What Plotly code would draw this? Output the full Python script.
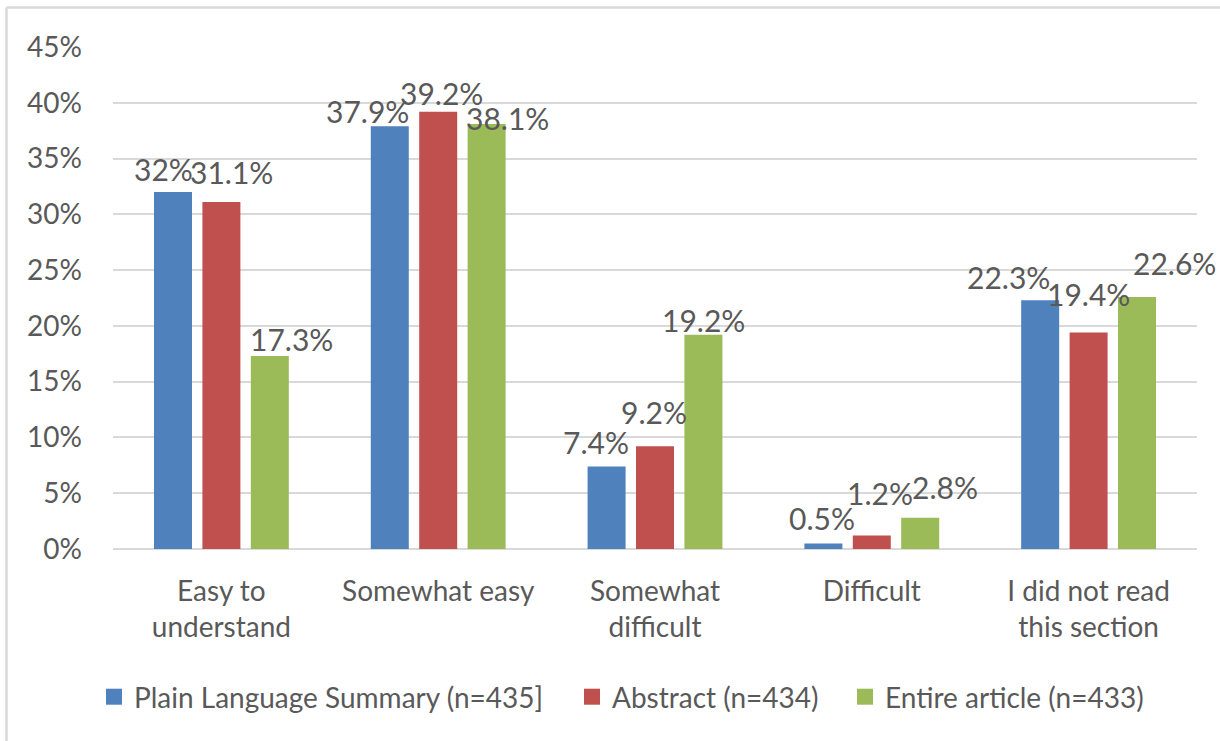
import plotly.graph_objects as go

# Survey results: perceived ease of reading each section
categories = ["Easy to<br>understand", "Somewhat easy", "Somewhat<br>difficult",
              "Difficult", "I did not read<br>this section"]
series_names = ["Plain Language Summary (n=435]", "Abstract (n=434)", "Entire article (n=433)"]
plain_summary = [32.0, 37.9, 7.4, 0.5, 22.3]
abstract = [31.1, 39.2, 9.2, 1.2, 19.4]
entire_article = [17.3, 38.1, 19.2, 2.8, 22.6]
label_texts = [
    ["32%", "37.9%", "7.4%", "0.5%", "22.3%"],
    ["31.1%", "39.2%", "9.2%", "1.2%", "19.4%"],
    ["17.3%", "38.1%", "19.2%", "2.8%", "22.6%"],
]
y_ticks = [0, 5, 10, 15, 20, 25, 30, 35, 40, 45]
y_tick_labels = ["0%", "5%", "10%", "15%", "20%", "25%", "30%", "35%", "40%", "45%"]

colors = ["#4F81BD", "#C0504D", "#9BBB59"]
text_color = "#595959"
grid_color = "#D9D9D9"
font_family = "Lato, Carlito, Calibri, sans-serif"

# Geometry of the figure
W, H = 1220, 741
ML, MR, MT, MB = 113, 23, 47, 192
BARGAP = 0.33
BARGROUPGAP = 0.215
plot_w = W - ML - MR
plot_h = H - MT - MB

# Hand-placed label nudges (pixels): horizontal from bar centre, vertical above bar top
label_dx = [[-9, -22, -11, -1, -32], [10, 3, -1, 8, 0], [22, 21, 0, 25, 37]]
label_dy = [[23, 15, 24, 25, 23], [30, 19, 34, 43, 39], [17, 6, 15, 31, 34]]

# Left pixel where each legend entry's text begins
legend_text_x = [134, 612, 885]
legend_ids = ["legend", "legend2", "legend3"]

values = [plain_summary, abstract, entire_article]

fig = go.Figure()
for name, vals, col in zip(series_names, values, colors):
    fig.add_trace(go.Bar(
        x=categories, y=vals, name=name, marker=dict(color=col, line=dict(width=0)),
        showlegend=False, hoverinfo="x+y",
    ))
# Legend entries with larger square swatches, one legend box per entry
for name, col, lid in zip(series_names, colors, legend_ids):
    fig.add_trace(go.Scatter(
        x=[None], y=[None], mode="markers", name=name, legend=lid,
        marker=dict(symbol="square", size=16, color=col),
    ))

# Data labels
cat_w = plot_w / len(categories)
slot = cat_w * (1 - BARGAP) / len(values)
for s, vals in enumerate(values):
    base_dx = (s - (len(values) - 1) / 2) * slot
    for c, v in enumerate(vals):
        fig.add_annotation(
            x=categories[c], y=v, xref="x", yref="y", text=label_texts[s][c],
            showarrow=False, xanchor="center", yanchor="middle",
            xshift=base_dx + label_dx[s][c], yshift=label_dy[s][c],
            font=dict(family=font_family, size=30, color=text_color),
        )

# Chart-area frame (left and top edges visible)
bx = (6.5 - ML) / plot_w
by = 1 + (MT - 7.5) / plot_h
fig.add_shape(type="line", xref="paper", yref="paper", x0=bx, x1=bx, y0=by, y1=-1,
              line=dict(color=grid_color, width=2.5), layer="below")
fig.add_shape(type="line", xref="paper", yref="paper", x0=bx, x1=1.2, y0=by, y1=by,
              line=dict(color=grid_color, width=2.5), layer="below")

legend_y = (MB - (H - 697)) / -plot_h
legend_common = dict(orientation="h", xanchor="left", y=legend_y, yanchor="middle",
                     font=dict(family=font_family, size=28, color=text_color),
                     itemwidth=30, borderwidth=0, bgcolor="rgba(0,0,0,0)")
legend_layout = {
    lid: dict(legend_common, x=(tx - 40 - ML) / plot_w)
    for lid, tx in zip(legend_ids, legend_text_x)
}

fig.update_layout(
    width=W, height=H,
    margin=dict(l=ML, r=MR, t=MT, b=MB, pad=0, autoexpand=False),
    paper_bgcolor="white", plot_bgcolor="white",
    barmode="group", bargap=BARGAP, bargroupgap=BARGROUPGAP,
    font=dict(family=font_family, size=28, color=text_color),
    showlegend=True,
    **legend_layout,
)
fig.update_xaxes(range=[-0.5, len(categories) - 0.5], autorange=False,
                 showgrid=False, showline=False, ticks="", zeroline=False,
                 ticklabelstandoff=23, tickfont=dict(size=28, color=text_color))
fig.update_yaxes(range=[0, 45], autorange=False, tickmode="array",
                 tickvals=y_ticks, ticktext=y_tick_labels,
                 showgrid=True, gridcolor=grid_color, gridwidth=2,
                 zeroline=True, zerolinecolor=grid_color, zerolinewidth=2,
                 showline=False, ticks="", ticklabelstandoff=30,
                 tickfont=dict(size=28, color=text_color))

fig.write_html("out.html")
